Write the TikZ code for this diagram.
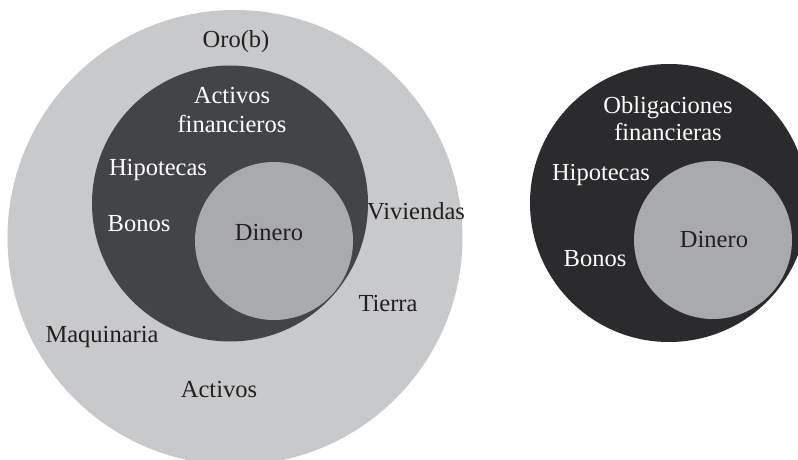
\documentclass[tikz,border=0pt]{standalone}
\usepackage{fontspec}
\setmainfont{Liberation Serif}
\definecolor{outergray}{HTML}{C8C9CB}
\definecolor{darkleft}{HTML}{434447}
\definecolor{innergray}{HTML}{A9AAAD}
\definecolor{darkright}{HTML}{2B2A2C}
\definecolor{txtdark}{HTML}{231F20}
\begin{document}
\begin{tikzpicture}[x=1pt,y=-1pt,
  lbl/.style={font=\fontsize{24.5}{29}\selectfont, inner sep=0pt, align=center},
  wlbl/.style={lbl, text=white},
  dlbl/.style={lbl, text=txtdark}]
\clip (0,0) rectangle (798,460);
\fill[white] (0,0) rectangle (798,460);
% left set
\fill[outergray] (235,237.5) circle[radius=227.5];
\fill[darkleft] (230,203.5) circle[radius=138];
\fill[innergray] (274,241) circle[radius=79];
% right set
\fill[darkright] (669,203) circle[radius=139];
\fill[innergray] (713,240) circle[radius=79];
% labels left
\node[dlbl] (oro) at (236,42) {Oro(b)};
\node[wlbl] (actfin) at (232,110) {Activos\\financieros};
\node[wlbl] (hipL) at (158,170) {Hipotecas};
\node[wlbl] (bonL) at (139,224) {Bonos};
\node[dlbl] (dinL) at (269,233) {Dinero};
\node[dlbl] (viv) at (416,211) {Viviendas};
\node[dlbl] (tie) at (388,304) {Tierra};
\node[dlbl] (maq) at (102,337) {Maquinaria};
\node[dlbl] (act) at (219,390) {Activos};
% labels right
\node[wlbl] (oblig) at (668,118.5) {Obligaciones\\[-2pt]financieras};
\node[wlbl] (hipR) at (601,175) {Hipotecas};
\node[wlbl] (bonR) at (595,259) {Bonos};
\node[dlbl] (dinR) at (714,240) {Dinero};
\end{tikzpicture}
\end{document}
